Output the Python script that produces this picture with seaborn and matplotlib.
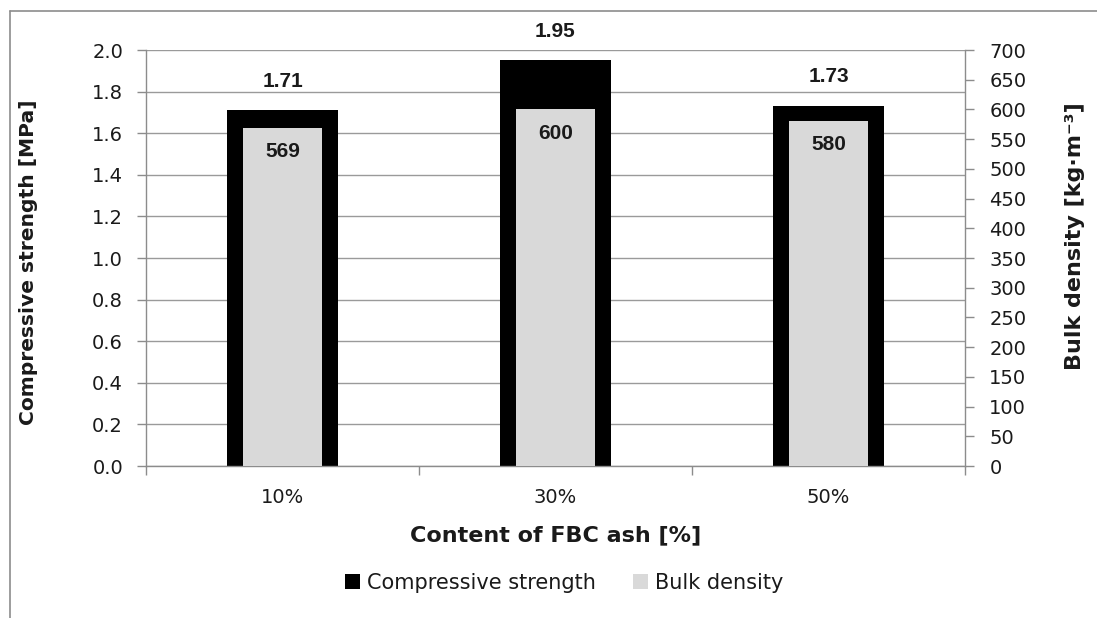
import matplotlib
matplotlib.use("Agg")
import matplotlib.pyplot as plt
import seaborn as sns
import pandas as pd
from matplotlib.lines import Line2D
from matplotlib.patches import Patch

categories = ["10%", "30%", "50%"]
strength = [1.71, 1.95, 1.73]
density = [569, 600, 580]
left_ticks = [0.0, 0.2, 0.4, 0.6, 0.8, 1.0, 1.2, 1.4, 1.6, 1.8, 2.0]
right_ticks = list(range(0, 701, 50))

sns.set_theme(style="white")
plt.rcParams['font.family'] = ['DejaVu Sans']

df = pd.DataFrame({"cat": categories, "strength": strength, "density": density})

fig = plt.figure(figsize=(10.97, 6.18), dpi=100)
ax = fig.add_axes([146/1097, 1-466/618, (965-146)/1097, (466-50)/618])
ax2 = ax.twinx()

GRID = "#9a9a9a"
SPINE = "#8c8c8c"
BLACK = "#000000"
GREY = "#d9d9d9"
TXT = "#1a1a1a"

sns.barplot(data=df, x="cat", y="strength", ax=ax, color=BLACK, width=0.405,
            saturation=1, linewidth=0, zorder=2)
sns.barplot(data=df, x="cat", y="density", ax=ax2, color=GREY, width=0.29,
            saturation=1, linewidth=0, zorder=3)

ax.set_zorder(1)
ax2.set_zorder(2)
ax2.patch.set_visible(False)

ax.set_ylim(0, 2.0)
ax2.set_ylim(0, 700)
ax.set_xlim(-0.5, 2.5)
ax.set_yticks(left_ticks)
ax.set_yticklabels([f"{t:.1f}" for t in left_ticks])
ax2.set_yticks(right_ticks)
ax2.set_yticklabels([str(t) for t in right_ticks])

ax.set_axisbelow(True)
ax.yaxis.grid(True, color=GRID, linewidth=1)
ax.xaxis.grid(False)
ax2.grid(False)

for a in (ax, ax2):
    for s in a.spines.values():
        s.set_visible(False)
ax.spines['left'].set_visible(True)
ax.spines['bottom'].set_visible(True)
ax2.spines['right'].set_visible(True)
for s in (ax.spines['left'], ax.spines['bottom'], ax2.spines['right']):
    s.set_color(SPINE)
    s.set_linewidth(1)

ax.tick_params(axis='y', which='major', left=True, length=6.5, width=1, color=SPINE,
               labelsize=14, labelcolor=TXT, pad=10)
ax2.tick_params(axis='y', which='major', right=True, length=6.5, width=1, color=SPINE,
                labelsize=14, labelcolor=TXT, pad=11)
ax.set_xticks([0, 1, 2])
ax.set_xticklabels(categories)
ax.set_xticks([-0.5, 0.5, 1.5, 2.5], minor=True)
ax.tick_params(axis='x', which='major', length=0, labelsize=14, labelcolor=TXT, pad=16)
ax.tick_params(axis='x', which='minor', bottom=True, length=6.5, width=1, color=SPINE)

ax.set_xlabel("Content of FBC ash [%]", fontsize=16, fontweight='bold', color=TXT)
ax.xaxis.set_label_coords(0.5, (466-535)/416)
ax.xaxis.label.set_va('center')

ax.set_ylabel("Compressive strength [MPa]", fontsize=14.6, fontweight='bold', color=TXT)
ax.yaxis.set_label_coords((28-146)/819, (466-262)/416)
ax.yaxis.label.set_va('center')

ax2.set_ylabel("Bulk density [kg·m⁻³]", fontsize=16, fontweight='bold', color=TXT)
ax2.yaxis.set_label_coords((1075-146)/819, (466-236)/416)
ax2.yaxis.label.set_va('center')

for i, v in enumerate(strength):
    ax.annotate(f"{v:.2f}", (i, v), xytext=(0, 21), textcoords='offset points',
                ha='center', va='center', fontsize=15, fontweight='bold',
                family=['Liberation Sans', 'DejaVu Sans'], color=TXT)
for i, v in enumerate(density):
    ax2.annotate(f"{v}", (i, v), xytext=(0, -17), textcoords='offset points',
                 ha='center', va='center', fontsize=15, fontweight='bold',
                 family=['Liberation Sans', 'DejaVu Sans'], color=TXT, zorder=5)

handles = [Patch(facecolor=BLACK, edgecolor='none', label="Compressive strength"),
           Patch(facecolor=GREY, edgecolor='none', label="Bulk density")]
fig.legend(handles=handles, loc='center', bbox_to_anchor=(564/1097, 1-583/618), ncol=2,
           frameon=False, fontsize=15, handlelength=0.72, handleheight=0.72,
           handletextpad=0.33, columnspacing=1.8, labelcolor=TXT)

# outer chart frame (clipped on right and bottom)
fig.add_artist(Line2D([10/1097, 1.0], [1-11/618, 1-11/618], transform=fig.transFigure,
                      color="#8c8c8c", linewidth=1.2))
fig.add_artist(Line2D([10/1097, 10/1097], [0.0, 1-11/618], transform=fig.transFigure,
                      color="#8c8c8c", linewidth=1.2))

fig.savefig("out.png", dpi=100)
